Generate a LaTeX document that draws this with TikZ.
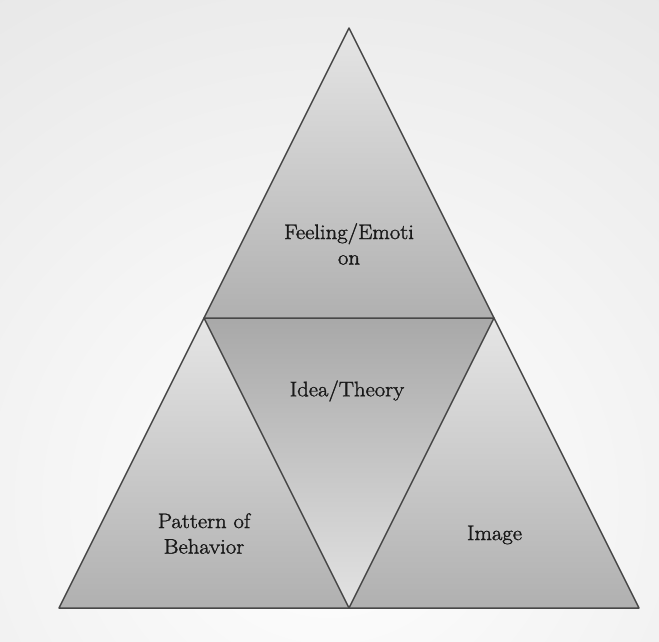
\documentclass[tikz,border=0pt]{standalone}
\usepackage{fontspec}
\newfontfamily\lblfont[FakeStretch=1.08, FakeBold=1.6]{Latin Modern Roman}
\begin{document}
\begin{tikzpicture}[x=1pt,y=-1pt,
  edge/.style={draw=black!72, line width=1.5pt, line join=round},
  upfill/.style={top color=black!10, bottom color=black!31},
  downfill/.style={top color=black!34, bottom color=black!11},
  lbl/.style={align=center, font=\lblfont\fontsize{21}{25.5}\selectfont, text=black!90, inner sep=0pt}]
\useasboundingbox (0,0) rectangle (659,641);
\begin{scope}
  \clip (0,0) rectangle (659,641);
  \shade[inner color=white, outer color=black!9] (-300,-100) rectangle (960,1100);
\end{scope}
% corners
\coordinate (A) at (349,28);
\coordinate (L) at (59,608);
\coordinate (R) at (639,608);
\coordinate (M) at (349,608);
\coordinate (P) at (204,318);
\coordinate (Q) at (494,318);
% fills
\shade[upfill] (A) -- (P) -- (Q) -- cycle;
\shade[upfill] (P) -- (L) -- (M) -- cycle;
\shade[upfill] (Q) -- (M) -- (R) -- cycle;
\shade[downfill] (P) -- (Q) -- (M) -- cycle;
% outlines
\draw[edge] (A) -- (L) -- (R) -- cycle;
\draw[edge] (P) -- (Q) -- (M) -- cycle;
% labels
\node[lbl] (feel) at (349,244) {Feeling/Emoti\\on};
\node[lbl] (idea) at (347,391) {Idea/Theory};
\node[lbl] (patt) at (204,533.5) {Pattern of\\Behavior};
\node[lbl] (img) at (494.5,535) {Image};
\end{tikzpicture}
\end{document}
